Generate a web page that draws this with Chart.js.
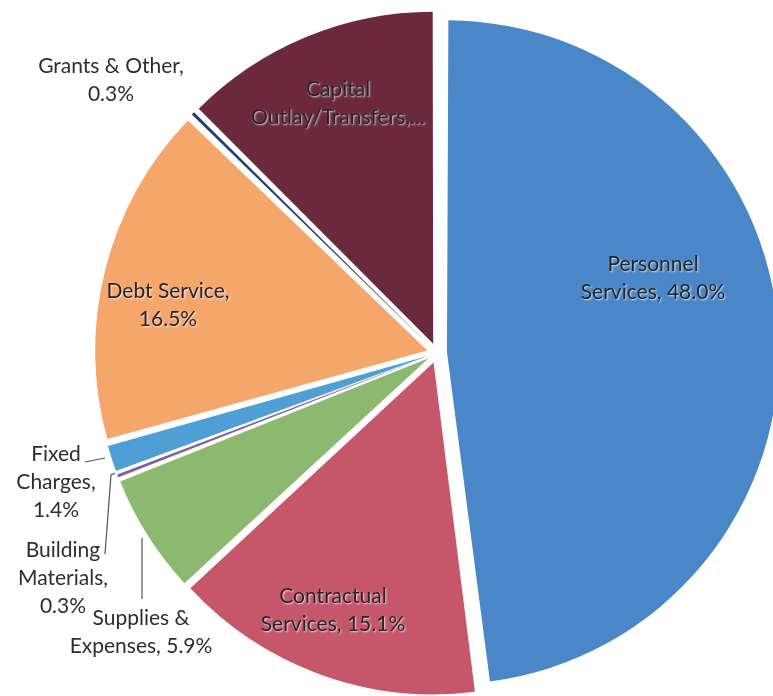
<!DOCTYPE html>
<html>
<head>
<meta charset="utf-8">
<title>Expenditures by category</title>
<script src="https://cdn.jsdelivr.net/npm/chart.js@4.4.1/dist/chart.umd.min.js"></script>
<style>
  html, body { margin: 0; padding: 0; background: #fff; overflow: hidden; }
  #wrap { position: relative; width: 773px; height: 696px; }
</style>
</head>
<body>
<div id="wrap"><canvas id="budgetPie"></canvas></div>
<script>
// Expenditure categories, clockwise from 12 o'clock
const categories = [
  "Personnel Services",
  "Contractual Services",
  "Supplies & Expenses",
  "Building Materials",
  "Fixed Charges",
  "Debt Service",
  "Grants & Other",
  "Capital Outlay/Transfers"
];
const shares = [48.0, 15.1, 5.9, 0.3, 1.4, 16.5, 0.3, 12.5];

// How each data label breaks over lines; {p} becomes the share
const labelLines = [
  ["Personnel", "Services, {p}"],
  ["Contractual", "Services, {p}"],
  ["Supplies &", "Expenses, {p}"],
  ["Building", "Materials,", "{p}"],
  ["Fixed", "Charges,", "{p}"],
  ["Debt Service,", "{p}"],
  ["Grants & Other,", "{p}"],
  ["Capital", "Outlay/Transfers,..."]
];

const sliceColors = [
  "#4a87c8", // personnel
  "#c6566a", // contractual
  "#8cb96f", // supplies
  "#7b5ea6", // building materials
  "#4f9fd6", // fixed charges
  "#f5a66b", // debt service
  "#1f3f74", // grants
  "#6c283d"  // capital
];

// Layout of the pie
const PIE_RADIUS = 332;
const EXPLODE = 40;          // arc offset option (slices move offset/4 px)
const LINE_H = 28;

// Label anchors, measured from the pie centre (first line middle)
const labelLayout = [
  { dx: 216,  dy: -89, inside: true },
  { dx: -104, dy: 243, inside: true },
  { dx: -296, dy: 265 },
  { dx: -374, dy: 197 },
  { dx: -381, dy: 101 },
  { dx: -269, dy: -62, inside: true },
  { dx: -326, dy: -287 },
  { dx: -99,  dy: -264, inside: true }
];

// Leader lines for the small slices, from the pie centre
const leaders = [
  [[-352, 109], [-332, 105]],
  [[-332, 201], [-326, 122], [-322, 120]],
  [[-295, 246], [-295, 185]]
];

// keep every exploded slice on the same outer radius
const evenRadius = {
  id: "evenRadius",
  afterDatasetUpdate(chart, args) {
    args.meta.data.forEach((arc) => {
      const off = (arc.options.offset || 0) / 4;
      const fix = 1 - Math.sin(Math.min(Math.PI, arc.circumference));
      arc.outerRadius = PIE_RADIUS - off * fix;
    });
  }
};

const pieLabels = {
  id: "pieLabels",
  afterDatasetsDraw(chart) {
    const { ctx, chartArea } = chart;
    const cx = (chartArea.left + chartArea.right) / 2;
    const cy = (chartArea.top + chartArea.bottom) / 2;

    ctx.save();
    ctx.strokeStyle = "#555";
    ctx.lineWidth = 1.2;
    leaders.forEach((pts) => {
      ctx.beginPath();
      pts.forEach(([x, y], i) => {
        if (i === 0) ctx.moveTo(cx + x, cy + y);
        else ctx.lineTo(cx + x, cy + y);
      });
      ctx.stroke();
    });

    ctx.font = "21px Lato, 'Open Sans', sans-serif";
    ctx.textAlign = "center";
    ctx.textBaseline = "middle";
    labelLines.forEach((lines, i) => {
      const pos = labelLayout[i];
      const pct = shares[i].toFixed(1) + "%";
      lines.forEach((line, j) => {
        const text = line.replace("{p}", pct);
        const x = cx + pos.dx;
        const y = cy + pos.dy + j * LINE_H;
        if (pos.inside) {
          ctx.shadowColor = "rgba(255,255,255,0.8)";
          ctx.shadowBlur = 2;
          ctx.shadowOffsetX = 1;
          ctx.shadowOffsetY = 1;
          ctx.fillStyle = "#25252b";
        } else {
          ctx.shadowColor = "transparent";
          ctx.fillStyle = "#2e2e2e";
        }
        ctx.fillText(text, x, y);
      });
    });
    ctx.restore();
  }
};

new Chart(document.getElementById("budgetPie"), {
  type: "pie",
  data: {
    labels: categories,
    datasets: [
      {
        data: shares,
        backgroundColor: sliceColors,
        borderWidth: 0,
        offset: EXPLODE,
        clip: false
      }
    ]
  },
  options: {
    responsive: true,
    maintainAspectRatio: false,
    animation: false,
    radius: PIE_RADIUS,
    layout: {
      padding: { left: 101, top: 10, right: 0, bottom: 0 }
    },
    plugins: {
      legend: { display: false },
      tooltip: { enabled: false }
    }
  },
  plugins: [evenRadius, pieLabels]
});
</script>
</body>
</html>
